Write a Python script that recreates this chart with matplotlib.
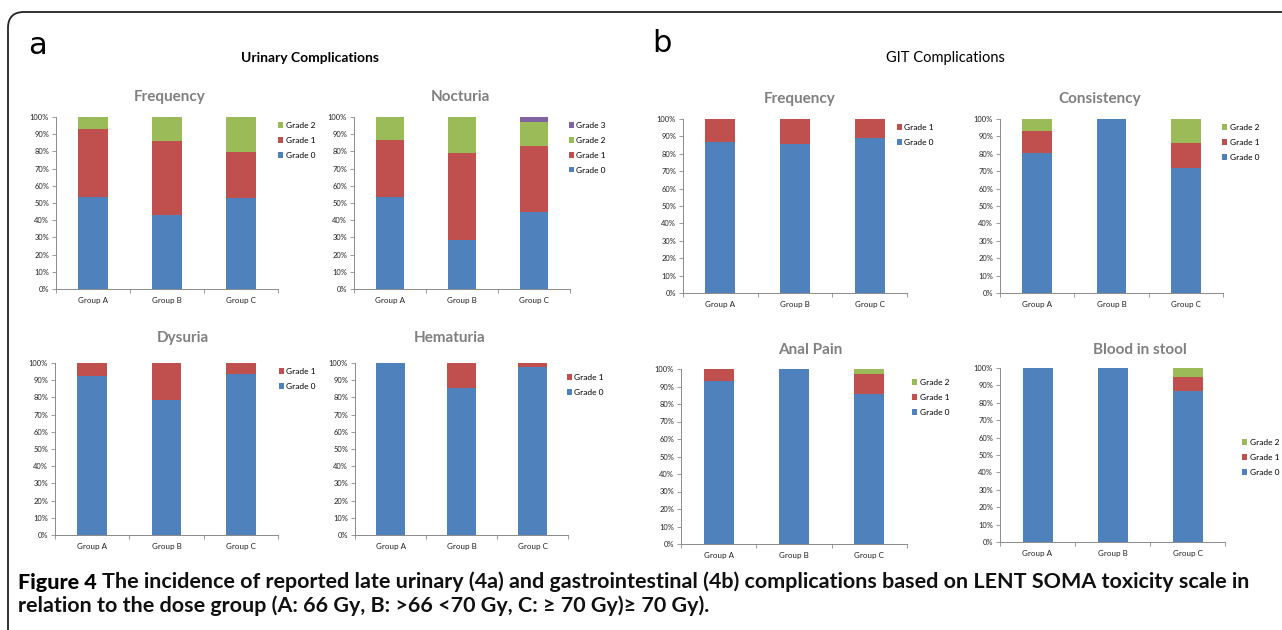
import numpy as np
import matplotlib
matplotlib.use('Agg')
import matplotlib.pyplot as plt
from matplotlib.patches import Patch, FancyBboxPatch
from matplotlib.ticker import FuncFormatter

W, H = 1282, 630

groups = ['Group A', 'Group B', 'Group C']
grade_names = ['Grade 0', 'Grade 1', 'Grade 2', 'Grade 3']
colors = ['#4F81BD', '#C0504D', '#9BBB59', '#8064A2']

# urinary (a)
freq_u_g0 = [53.5, 43.0, 52.7]
freq_u_g1 = [39.7, 42.9, 27.0]
freq_u_g2 = [6.8, 14.1, 20.3]

noct_g0 = [53.7, 28.6, 44.6]
noct_g1 = [32.8, 50.2, 38.6]
noct_g2 = [13.5, 21.2, 14.1]
noct_g3 = [0.0, 0.0, 2.7]

dys_g0 = [92.6, 78.3, 93.6]
dys_g1 = [7.4, 21.7, 6.4]

hem_g0 = [100.0, 85.4, 97.5]
hem_g1 = [0.0, 14.6, 2.5]

# GIT (b)
freq_g_g0 = [86.8, 85.9, 89.3]
freq_g_g1 = [13.2, 14.1, 10.7]

cons_g0 = [80.2, 100.0, 72.1]
cons_g1 = [12.9, 0.0, 14.2]
cons_g2 = [6.9, 0.0, 13.7]

anal_g0 = [93.3, 100.0, 85.9]
anal_g1 = [6.7, 0.0, 11.4]
anal_g2 = [0.0, 0.0, 2.7]

blood_g0 = [100.0, 100.0, 86.8]
blood_g1 = [0.0, 0.0, 8.0]
blood_g2 = [0.0, 0.0, 5.2]

FONT = ['Lato', 'DejaVu Sans']
plt.rcParams['font.family'] = FONT

fig = plt.figure(figsize=(W / 100, H / 100), dpi=100)


def px_axes(x0, x1, y0, y1):
    # pixel box (top-left origin) -> figure axes
    return fig.add_axes([x0 / W, 1 - y1 / H, (x1 - x0) / W, (y1 - y0) / H])


def fx(x):
    return x / W


def fy(y):
    return 1 - y / H


def panel(box, title, title_xy, series, leg_xy):
    ax = px_axes(*box)
    x = np.arange(len(groups))
    bottom = np.zeros(len(groups))
    for i, vals in enumerate(series):
        v = np.array(vals) / 100.0
        ax.bar(x, v, 0.4, bottom=bottom, color=colors[i], linewidth=0)
        bottom = bottom + v
    ax.set_xlim(-0.5, 2.5)
    ax.set_ylim(0, 1)
    ax.set_yticks(np.arange(0, 1.01, 0.1))
    ax.yaxis.set_major_formatter(FuncFormatter(lambda v, p: '%d%%' % round(v * 100)))
    ax.set_xticks(x)
    ax.set_xticklabels(groups)
    ax.set_xticks([-0.5, 0.5, 1.5, 2.5], minor=True)
    ax.tick_params(axis='x', which='major', length=0, labelsize=5.8, pad=6, colors='#222222')
    ax.tick_params(axis='x', which='minor', length=3, color='#8a8a8a', width=0.6)
    ax.tick_params(axis='y', length=3, width=0.6, labelsize=5.4, pad=2, colors='#222222')
    ax.tick_params(axis='y', color='#8a8a8a')
    for s in ['top', 'right']:
        ax.spines[s].set_visible(False)
    for s in ['left', 'bottom']:
        ax.spines[s].set_color('#8a8a8a')
        ax.spines[s].set_linewidth(0.7)
    fig.text(fx(title_xy[0]), fy(title_xy[1]), title, ha='center', va='center',
             fontsize=11, fontweight='bold', color='#808080')
    handles = [Patch(facecolor=colors[i], label=grade_names[i]) for i in range(len(series))]
    handles = handles[::-1]
    fig.legend(handles=handles, loc='upper left', bbox_to_anchor=(fx(leg_xy[0]), fy(leg_xy[1])),
               frameon=False, fontsize=6, handlelength=0.6, handleheight=0.6,
               handletextpad=0.3, labelspacing=0.95, borderaxespad=0, borderpad=0)
    return ax


panel((56, 278, 117, 289), 'Frequency', (170, 97), [freq_u_g0, freq_u_g1, freq_u_g2], (278, 122))
panel((354, 570, 117, 289), 'Nocturia', (460, 97), [noct_g0, noct_g1, noct_g2, noct_g3], (569, 122))
panel((55, 278, 363, 535), 'Dysuria', (183, 338), [dys_g0, dys_g1], (279, 368))
panel((355, 568, 363, 535), 'Hematuria', (450, 338), [hem_g0, hem_g1], (567, 374))
panel((683, 907, 119, 293), 'Frequency', (800, 99), [freq_g_g0, freq_g_g1], (897, 124))
panel((1000, 1223, 119, 293), 'Consistency', (1100, 99), [cons_g0, cons_g1, cons_g2], (1222, 124))
panel((681, 907, 369, 544), 'Anal Pain', (810, 350), [anal_g0, anal_g1, anal_g2], (912, 379))
panel((1000, 1225, 368, 542), 'Blood in stool', (1140, 350), [blood_g0, blood_g1, blood_g2], (1242, 439))

# panel letters and headings
fig.text(fx(28), fy(46), 'a', fontsize=22, ha='left', va='center', family='DejaVu Sans')
fig.text(fx(652), fy(44), 'b', fontsize=22, ha='left', va='center', family='DejaVu Sans')
fig.text(fx(310), fy(58), 'Urinary Complications', fontsize=10, fontweight='bold', ha='center', va='center')
fig.text(fx(945), fy(58), 'GIT Complications', fontsize=10.5, ha='center', va='center')

# caption, sized so the first line ends near x=1255
cap_head = 'Figure 4 '
cap1 = ('The incidence of reported late urinary (4a) and gastrointestinal (4b) complications '
        'based on LENT SOMA toxicity scale in')
cap2 = 'relation to the dose group (A: 66 Gy, B: >66 <70 Gy, C: \u2265 70 Gy)\u2265 70 Gy).'
size = 14.0
r = fig.canvas.get_renderer()
t0 = fig.text(fx(18), fy(582), cap_head, fontsize=size, fontweight='black', ha='left', va='center')
t1 = fig.text(0, fy(582), cap1, fontsize=size, fontweight='bold', ha='left', va='center', color='#111111')
w = t0.get_window_extent(r).width + t1.get_window_extent(r).width
size = size * (1255 - 18) / w
t0.set_fontsize(size)
t1.set_fontsize(size)
t1.set_x((18 + t0.get_window_extent(r).width) / W)
fig.text(fx(18), fy(606), cap2, fontsize=size, fontweight='bold', ha='left', va='center', color='#111111')

# rounded frame
frame = FancyBboxPatch((8, -30), 1320, 648, boxstyle='round,pad=0,rounding_size=16',
                       transform=None, facecolor='none', edgecolor='#222222', linewidth=1.3)
fig.add_artist(frame)

fig.savefig('out.png', dpi=100)
